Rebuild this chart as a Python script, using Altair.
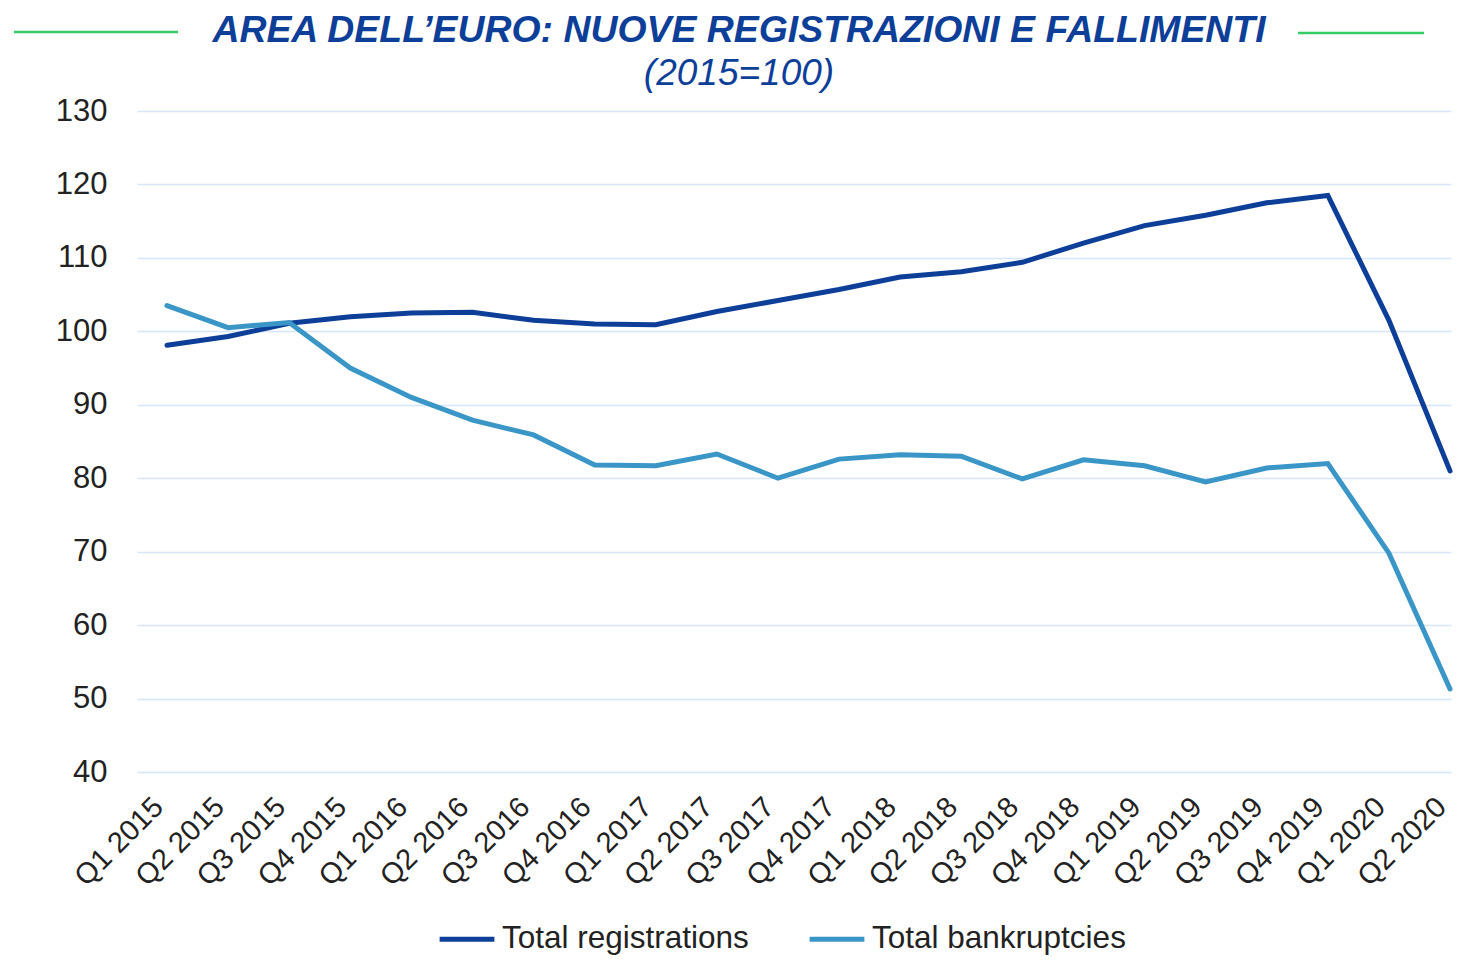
import json
import altair as alt
import pandas as pd

quarters = ["Q1 2015", "Q2 2015", "Q3 2015", "Q4 2015", "Q1 2016", "Q2 2016",
            "Q3 2016", "Q4 2016", "Q1 2017", "Q2 2017", "Q3 2017", "Q4 2017",
            "Q1 2018", "Q2 2018", "Q3 2018", "Q4 2018", "Q1 2019", "Q2 2019",
            "Q3 2019", "Q4 2019", "Q1 2020", "Q2 2020"]
registrations = [98.1, 99.3, 101.1, 102.0, 102.5, 102.6, 101.5, 101.0, 100.9, 102.7,
                 104.2, 105.7, 107.4, 108.1, 109.4, 112.0, 114.4, 115.8, 117.5, 118.5,
                 101.5, 81.0]
bankruptcies = [103.5, 100.5, 101.2, 95.0, 91.0, 87.9, 85.9, 81.8, 81.7, 83.3,
                80.0, 82.6, 83.2, 83.0, 79.9, 82.5, 81.7, 79.5, 81.4, 82.0,
                69.8, 51.3]
series_names = ["Total registrations", "Total bankruptcies"]
series_colors = ["#0d3f99", "#3a96c6"]
y_ticks = [40, 50, 60, 70, 80, 90, 100, 110, 120, 130]

rows = []
for i, q in enumerate(quarters):
    rows.append({"idx": i, "quarter": q, "series": series_names[0], "value": registrations[i]})
    rows.append({"idx": i, "quarter": q, "series": series_names[1], "value": bankruptcies[i]})
df = pd.DataFrame(rows)

FONT = "Liberation Sans"
label_expr = json.dumps(quarters) + "[round(datum.value)]"

lines = alt.Chart(df).mark_line(strokeWidth=5, strokeCap="round", strokeJoin="miter").encode(
    x=alt.X("idx:Q",
            scale=alt.Scale(domain=[-0.491, 21.016], nice=False, zero=False),
            axis=alt.Axis(title=None, values=list(range(len(quarters))), labelExpr=label_expr,
                          labelAngle=-45, labelFontSize=29, labelColor="#222222",
                          labelFont=FONT, ticks=False, domain=False, grid=False,
                          labelPadding=30, labelAlign="right", labelBaseline="middle",
                          labelOffset=-9,
                          labelLimit=0, labelFlush=False, labelOverlap=False)),
    y=alt.Y("value:Q", scale=alt.Scale(domain=[40, 130], nice=False, zero=False),
            axis=alt.Axis(title=None, values=y_ticks, labelFontSize=31, labelColor="#222222",
                          labelFont=FONT, ticks=False, domain=False, grid=True,
                          gridColor="#d6e5f8", gridWidth=1.5, labelPadding=30)),
    color=alt.Color("series:N", sort=series_names,
                    scale=alt.Scale(domain=series_names, range=series_colors),
                    legend=alt.Legend(title=None, orient="none", direction="horizontal",
                                      legendX=300, legendY=798,
                                      symbolType="stroke", symbolSize=3000, symbolStrokeWidth=5,
                                      labelFontSize=31.5, labelFont=FONT, labelColor="#222222",
                                      columnPadding=50, labelOffset=5, labelLimit=0)),
    detail="series:N",
)

deco = pd.DataFrame({"a": [0]})
left_rule = alt.Chart(deco).mark_rule(color="#33cc66", strokeWidth=2.5, clip=False).encode(
    x=alt.value(-123), x2=alt.value(41), y=alt.value(-79))
right_rule = alt.Chart(deco).mark_rule(color="#33cc66", strokeWidth=2.5, clip=False).encode(
    x=alt.value(1161), x2=alt.value(1287), y=alt.value(-78))

chart = alt.layer(lines, left_rule, right_rule).properties(
    width=1314, height=661,
    autosize=alt.AutoSizeParams(type="none"),
    padding={"left": 129, "top": 103, "right": 2, "bottom": 183},
    title=alt.TitleParams(
        text="AREA DELL\u2019EURO: NUOVE REGISTRAZIONI E FALLIMENTI",
        subtitle="(2015=100)",
        font=FONT, fontSize=37.4, fontStyle="italic", fontWeight="bold", color="#0d3f99",
        subtitleFont=FONT, subtitleFontSize=37, subtitleFontStyle="italic",
        subtitleColor="#0d3f99", subtitlePadding=6,
        anchor="middle", frame="group", offset=14, dx=-55, dy=75),
).configure(background="white").configure_view(strokeWidth=0)

chart.save("out.html", embed_options={"renderer": "svg", "actions": False})
